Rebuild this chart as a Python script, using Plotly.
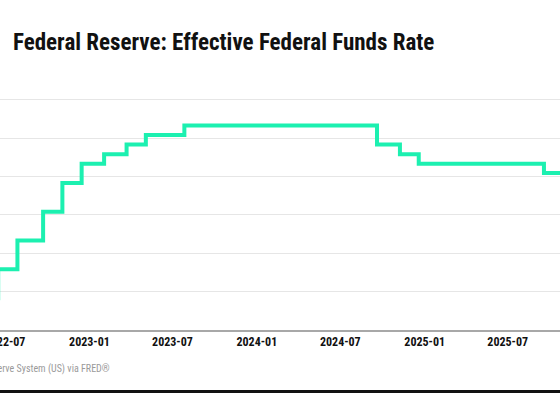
import plotly.graph_objects as go

# step-change dates of the effective federal funds rate (percent)
dates = [
    "2022-05-05", "2022-06-16", "2022-07-28", "2022-09-22", "2022-11-03",
    "2022-12-15", "2023-02-02", "2023-03-23", "2023-05-04", "2023-07-27",
    "2024-09-19", "2024-11-08", "2024-12-19", "2025-09-18", "2025-10-29",
]
rates = [
    0.83, 1.58, 2.33, 3.08, 3.83,
    4.33, 4.58, 4.83, 5.08, 5.33,
    4.83, 4.58, 4.33, 4.09, 4.09,
]

title_text = "Federal Reserve: Effective Federal Funds Rate"
source_text = "Source: Board of Governors of the Federal Reserve System (US) via FRED®"

cond = "Roboto Condensed"

fig = go.Figure()
fig.add_trace(go.Scatter(
    x=dates, y=rates, mode="lines",
    line=dict(color="#1cf0b0", width=4, shape="hv"),
    hoverinfo="x+y",
))

fig.update_layout(
    width=560, height=420,
    margin=dict(l=0, r=0, t=92, b=90, autoexpand=False),
    paper_bgcolor="white", plot_bgcolor="white",
    showlegend=False,
    title=dict(
        text=title_text, x=13 / 560, xanchor="left", xref="container",
        y=1 - 42 / 420, yanchor="middle", yref="container",
        font=dict(family=cond, size=23, color="#111111", weight="bold"),
    ),
    xaxis=dict(
        type="date", range=["2022-06-20", "2025-10-23"],
        tick0="2022-01-01", dtick="M6", tickformat="%Y-%m",
        showgrid=False, zeroline=False,
        showline=True, linecolor="#a8a8a8", linewidth=1.5,
        ticks="", automargin=False, ticklabeloverflow="allow",
        tickfont=dict(family=cond, size=12, color="#111111", weight="bold"),
    ),
    yaxis=dict(
        range=[0, 6.2], dtick=1, showticklabels=False,
        showgrid=True, gridcolor="#e6e6e6", gridwidth=1,
        zeroline=False, automargin=False,
    ),
    annotations=[dict(
        text=source_text, xref="paper", yref="paper",
        x=112 / 560, xanchor="right", y=-(369 - 330) / 238, yanchor="middle",
        showarrow=False,
        font=dict(family=cond, size=10, color="#9a9a9a"),
    )],
    shapes=[dict(
        type="line", xref="paper", yref="paper",
        x0=-0.05, x1=1.05, y0=-(391.5 - 330) / 238, y1=-(391.5 - 330) / 238,
        line=dict(color="#111111", width=3),
    )],
)

# the page's default body margin would shift the chart by 8 px
fig.write_html("out.html", config={"displayModeBar": False},
               post_script="document.body.style.margin='0';")
